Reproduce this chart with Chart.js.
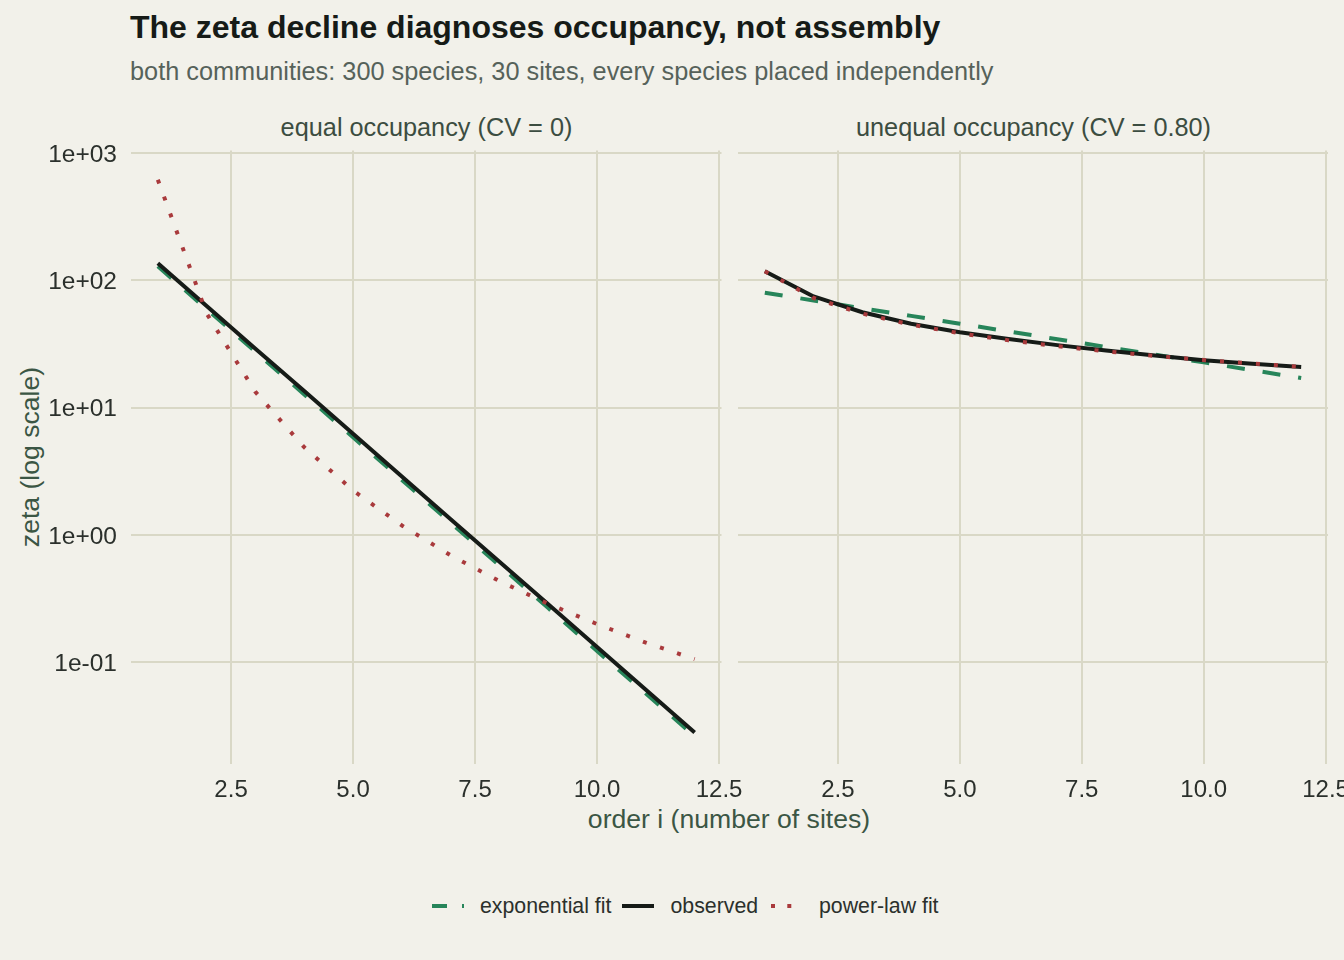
<!DOCTYPE html>
<html>
<head>
<meta charset="utf-8">
<script src="https://cdn.jsdelivr.net/npm/chart.js@4.4.1/dist/chart.umd.min.js"></script>
<style>
  body { margin: 0; background: #f2f1ea; font-family: "Liberation Sans", Arial, sans-serif; }
  #page { position: relative; width: 1344px; height: 960px; overflow: hidden; background: #f2f1ea; }
  .txt { position: absolute; white-space: nowrap; line-height: 1; }
  canvas { position: absolute; }
</style>
</head>
<body>
<div id="page">
  <div class="txt" style="left:130px; top:11px; font-size:32px; font-weight:bold; color:#161b17;">The zeta decline diagnoses occupancy, not assembly</div>
  <div class="txt" style="left:130px; top:58.6px; font-size:25.3px; color:#56625a;">both communities: 300 species, 30 sites, every species placed independently</div>
  <div class="txt" style="left:131px; width:591px; text-align:center; top:114.5px; font-size:25.3px; color:#3c4d41;">equal occupancy (CV = 0)</div>
  <div class="txt" style="left:738px; width:591px; text-align:center; top:114.5px; font-size:25.3px; color:#3c4d41;">unequal occupancy (CV = 0.80)</div>
  <div class="txt" style="left:131px; width:1196px; text-align:center; top:806px; font-size:26.6px; color:#3b5644;">order i (number of sites)</div>
  <div class="txt" style="left:30px; top:457px; font-size:26.6px; color:#3b5644; transform: translate(-50%, -50%) rotate(-90deg);">zeta (log scale)</div>

  <div id="legend" style="position:absolute; left:0; top:0; width:1344px; height:960px;"></div>

  <canvas id="left" width="770" height="830" style="left:0px; top:0px;"></canvas>
  <canvas id="right" width="644" height="830" style="left:700px; top:0px;"></canvas>
</div>

<script>
// ordem i (número de sítios)
const orders = [1, 2, 3, 4, 5, 6, 7, 8, 9, 10, 11, 12];

// painel esquerdo: ocupação igual (CV = 0)
const equalObserved = [136, 63.0, 29.1, 13.5, 6.24, 2.88, 1.33, 0.617, 0.286, 0.132, 0.0611, 0.0282];
const equalExpFit   = [129, 59.5, 27.5, 12.7, 5.86, 2.71, 1.25, 0.577, 0.267, 0.123, 0.0569, 0.0263];
const equalPowFit   = [617, 54.9, 13.3, 4.89, 2.24, 1.19, 0.693, 0.435, 0.288, 0.200, 0.143, 0.106];

// painel direito: ocupação desigual (CV = 0.80)
const unequalObserved = [118, 74.8, 56.2, 45.6, 39.2, 34.7, 31.0, 28.1, 25.7, 23.6, 22.1, 20.9];
const unequalExpFit   = [80.0, 69.5, 60.4, 52.6, 45.7, 39.7, 34.5, 30.0, 26.1, 22.7, 19.7, 17.1];
const unequalPowFit   = [117.8, 72.7, 54.8, 44.9, 38.4, 33.8, 30.4, 27.7, 25.5, 23.7, 22.2, 20.9];

const xTicks = [2.5, 5.0, 7.5, 10.0, 12.5];
const yTicks = [0.1, 1, 10, 100, 1000];

const seriesNames = ['exponential fit', 'observed', 'power-law fit'];
const seriesColors = ['#27855a', '#161b17', '#a93a3c'];
const seriesDash = [[18, 18], [], [4, 14]];

const gridColor = '#d9d8c6';
const tickColor = '#2b302c';
const fontFamily = '"Liberation Sans", Arial, sans-serif';

function pts(values) {
  return orders.map((o, i) => ({ x: o, y: values[i] }));
}

// * rótulos no estilo 1e+03 / 1e-01
function sciLabel(v) {
  const e = Math.round(Math.log10(v));
  return '1e' + (e < 0 ? '-' : '+') + String(Math.abs(e)).padStart(2, '0');
}

function makeDatasets(expo, obs, pow) {
  const vals = [expo, obs, pow];
  return vals.map((v, k) => ({
    label: seriesNames[k],
    data: pts(v),
    borderColor: seriesColors[k],
    borderWidth: 4,
    borderDash: seriesDash[k],
    borderCapStyle: 'butt',
    borderJoinStyle: 'round',
    pointRadius: 0,
    fill: false,
    tension: 0,
    order: 2 - k // vermelho por cima, depois preto, verde por baixo
  }));
}

function makeChart(id, datasets, yAxisWidth, showYLabels, padRight) {
  const ctx = document.getElementById(id).getContext('2d');
  return new Chart(ctx, {
    type: 'line',
    data: { datasets: datasets },
    options: {
      responsive: false,
      animation: false,
      events: [],
      layout: { padding: { left: 0, top: 150.5, right: padRight, bottom: 830 - 764.3 - 50 } },
      plugins: { legend: { display: false }, tooltip: { enabled: false } },
      scales: {
        x: {
          type: 'linear',
          min: 0.45,
          max: 12.55,
          afterBuildTicks: (s) => { s.ticks = xTicks.map(v => ({ value: v })); },
          afterFit: (s) => { s.height = 50; s.paddingLeft = 0; s.paddingRight = 0; },
          grid: { color: gridColor, lineWidth: 2, drawTicks: false },
          border: { display: false },
          ticks: {
            padding: 12,
            color: tickColor,
            font: { family: fontFamily, size: 24 },
            maxRotation: 0,
            autoSkip: false,
            callback: (v) => Number(v).toFixed(1)
          }
        },
        y: {
          type: 'logarithmic',
          min: Math.pow(10, -1.80),
          max: Math.pow(10, 3.0197),
          afterBuildTicks: (s) => { s.ticks = yTicks.map(v => ({ value: v })); },
          afterFit: (s) => { s.width = yAxisWidth; s.paddingTop = 0; s.paddingBottom = 0; },
          grid: { color: gridColor, lineWidth: 2, drawTicks: false },
          border: { display: false },
          ticks: {
            display: showYLabels,
            padding: 14,
            labelOffset: 2,
            color: tickColor,
            font: { family: fontFamily, size: 24.5 },
            autoSkip: false,
            callback: (v) => sciLabel(v)
          }
        }
      }
    }
  });
}

makeChart('left', makeDatasets(equalExpFit, equalObserved, equalPowFit), 131, true, 770 - 721.5);
makeChart('right', makeDatasets(unequalExpFit, unequalObserved, unequalPowFit), 38, false, 644 - 628);

// legenda em HTML com amostras de linha
const legend = document.getElementById('legend');
const keyDash = [[15, 15], [], [4, 12.3]];
const keyLeft = [432, 622, 771];
const textLeft = [480, 670.5, 819];
seriesNames.forEach((name, k) => {
  const c = document.createElement('canvas');
  c.width = 32; c.height = 24;
  c.style.left = keyLeft[k] + 'px';
  c.style.top = '894px';
  const g = c.getContext('2d');
  g.strokeStyle = seriesColors[k];
  g.lineWidth = 4;
  g.setLineDash(keyDash[k]);
  g.beginPath(); g.moveTo(0, 12); g.lineTo(32, 12); g.stroke();
  legend.appendChild(c);
  const t = document.createElement('div');
  t.className = 'txt';
  t.textContent = name;
  t.style.left = textLeft[k] + 'px';
  t.style.top = '896px';
  t.style.fontSize = '21.3px';
  t.style.color = tickColor;
  legend.appendChild(t);
});
</script>
</body>
</html>
